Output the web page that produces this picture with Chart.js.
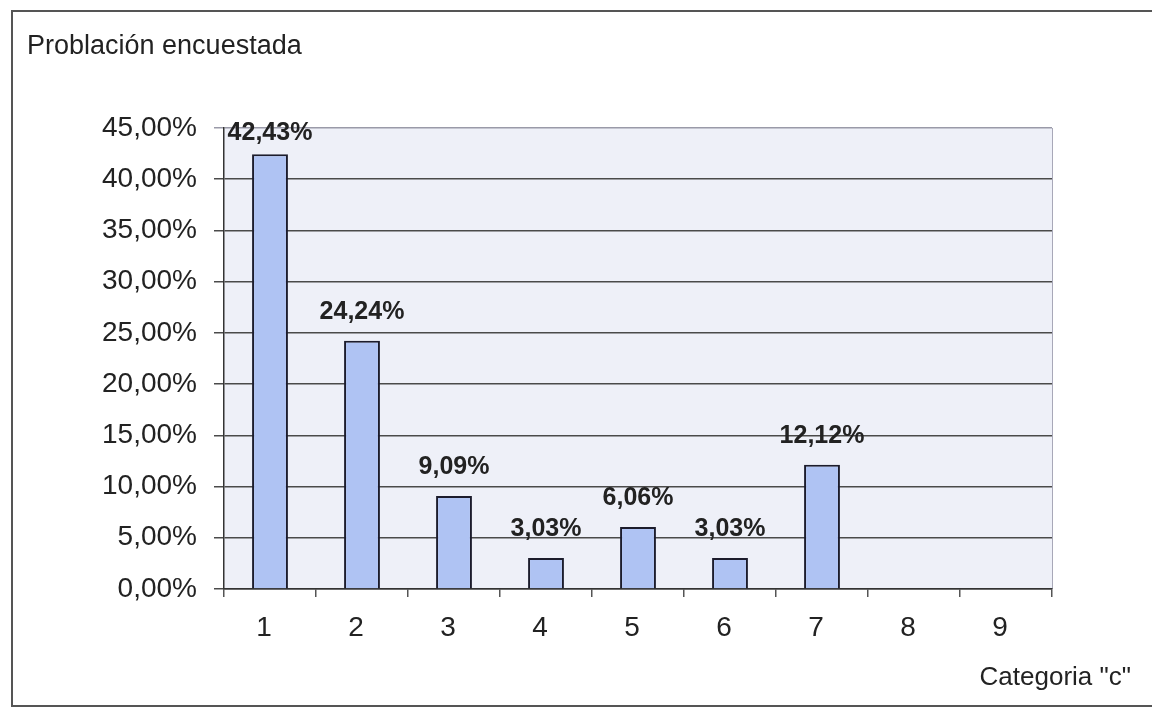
<!DOCTYPE html>
<html><head><meta charset="utf-8">
<script src="https://cdn.jsdelivr.net/npm/chart.js@4.4.1/dist/chart.umd.min.js"></script>
<style>html,body{margin:0;padding:0;background:#fff;}#wrap{width:1152px;height:709px;position:relative;}</style>
</head><body><div id="wrap"><canvas id="c" width="1152" height="709"></canvas></div>
<script>
const categories = ['1','2','3','4','5','6','7','8','9'];
const values = [42.43, 24.24, 9.09, 3.03, 6.06, 3.03, 12.12, null, null];
const chartTitle = 'Problación encuestada';
const xAxisTitle = 'Categoria "c"';
const yMin = 0, yMax = 45, yStep = 5;

const FONT = '"Liberation Sans", Arial, sans-serif';
const fmt = v => v.toFixed(2).replace('.', ',') + '%';

const decor = {
  id: 'decor',
  beforeDraw(chart) {
    const {ctx, chartArea: a} = chart;
    ctx.save();
    ctx.fillStyle = '#eef0f8';
    ctx.fillRect(a.left, a.top, a.right - a.left, a.bottom - a.top);
    ctx.strokeStyle = '#a8a8b8';
    ctx.lineWidth = 1;
    ctx.beginPath();
    ctx.moveTo(a.right + 0.5, a.top); ctx.lineTo(a.right + 0.5, a.bottom);
    ctx.stroke();
    ctx.strokeStyle = '#555';
    ctx.lineWidth = 2;
    ctx.beginPath();
    ctx.moveTo(1152, 11); ctx.lineTo(12, 11); ctx.lineTo(12, 706); ctx.lineTo(1152, 706);
    ctx.stroke();
    ctx.restore();
  },
  afterDraw(chart) {
    const {ctx, chartArea: a} = chart;
    ctx.save();
    ctx.fillStyle = '#222';
    ctx.textBaseline = 'middle';
    ctx.font = '27px ' + FONT;
    ctx.textAlign = 'left';
    ctx.fillText(chartTitle, 27, 47);
    ctx.font = '26px ' + FONT;
    ctx.textAlign = 'right';
    ctx.fillText(xAxisTitle, 1131, 678);
    ctx.font = 'bold 25px ' + FONT;
    ctx.textAlign = 'center';
    const meta = chart.getDatasetMeta(0);
    meta.data.forEach((bar, i) => {
      const v = values[i];
      if (v == null) return;
      const y = Math.max(bar.y - 29, a.top + 5);
      ctx.fillText(fmt(v), bar.x, y);
    });
    ctx.restore();
  }
};

new Chart(document.getElementById('c'), {
  type: 'bar',
  data: {
    labels: categories,
    datasets: [{
      data: values,
      backgroundColor: '#afc3f3',
      borderColor: '#1c1c2c',
      borderWidth: 2,
      barPercentage: 0.78,
      categoryPercentage: 0.5
    }]
  },
  options: {
    responsive: false,
    animation: false,
    layout: { padding: { left: 0, right: 100, top: 128, bottom: 0 } },
    plugins: { legend: { display: false }, tooltip: { enabled: false }, title: { display: false } },
    scales: {
      x: {
        offset: true,
        grid: { offset: true, drawOnChartArea: false, drawTicks: true, tickLength: 8, color: '#555', lineWidth: 1.5 },
        border: { display: true, color: '#333', width: 1.5 },
        ticks: { color: '#222', font: { family: FONT, size: 28 }, padding: 14, labelOffset: -6, maxRotation: 0 },
        afterFit(s) { s.height = 120; }
      },
      y: {
        min: yMin, max: yMax,
        grid: {
          color: ctx => (ctx.tick && ctx.tick.value === yMax) ? '#9a9aa8' : '#4a4a4a',
          lineWidth: 1.5, tickLength: 10, drawTicks: true
        },
        border: { display: true, color: '#333', width: 1.5 },
        ticks: { stepSize: yStep, color: '#222', font: { family: FONT, size: 28 }, padding: 17, callback: v => fmt(v) },
        afterFit(s) { s.width = 224; }
      }
    }
  },
  plugins: [decor]
});
</script></body></html>
